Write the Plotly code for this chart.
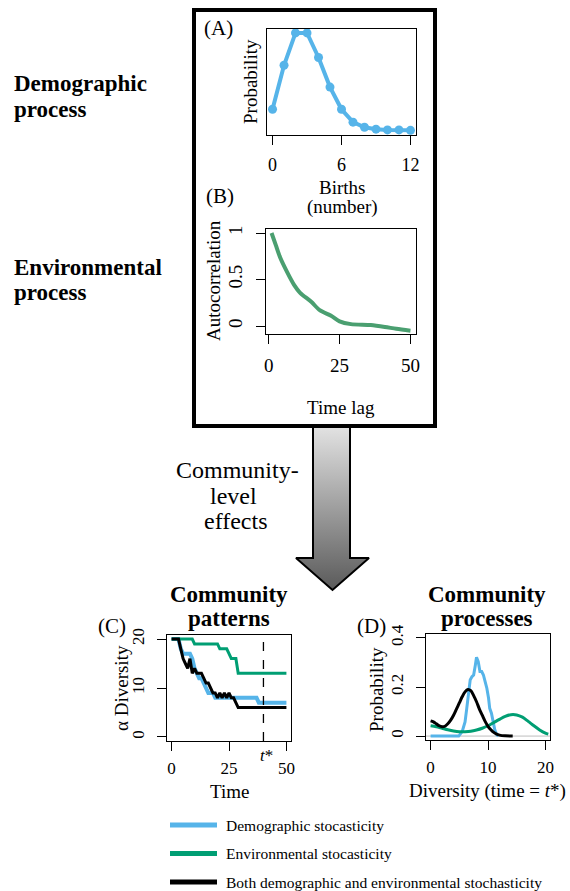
import plotly.graph_objects as go

W, H = 570, 891
FONT = "Liberation Serif"
BLUE = "#56B4E9"
GREEN = "#009E73"
GREEN_B = "#4A9F70"
BLACK = "#000000"

# ---------------- data ----------------
# Panel A: births distribution
births = [0, 1, 2, 3, 4, 5, 6, 7, 8, 9, 10, 11, 12]
birth_prob = [0.054, 0.167, 0.250, 0.250, 0.187, 0.111, 0.054, 0.021, 0.008, 0.003, 0.001, 0.001, 0.0]
a_ticks = [0, 6, 12]

# Panel B: autocorrelation
time_lag = [1, 2.5, 4, 6.5, 9, 11, 15, 18, 22, 25, 29, 36, 41, 45, 50]
autocorr = [1.0, 0.87, 0.74, 0.58, 0.44, 0.36, 0.26, 0.17, 0.11, 0.05, 0.02, 0.01, -0.01, -0.03, -0.05]
b_xticks = [0, 25, 50]
b_yticks = [0, 0.5, 1]
b_ytext = ["0", "0.5", "1"]

# Panel C: alpha diversity through time
time_steps = list(range(0, 51))
div_demographic = [20, 20, 20, 20, 18, 17, 17, 17, 17, 16, 14, 13, 12, 12, 11, 10, 9, 9, 9,
                   8, 8, 8, 8, 8, 8, 8, 8, 8, 8, 8, 8, 8, 8, 8, 8, 8, 8, 8,
                   7, 7, 7, 7, 7, 7, 7, 7, 7, 7, 7, 7, 7]
div_environmental = [20, 20, 20, 20, 20, 20, 20, 20, 20, 20,
                     19, 19, 19, 19, 19, 19, 19, 19, 19, 19, 19,
                     18, 18, 18, 18, 17, 16, 16, 16,
                     13, 13, 13, 13, 13, 13, 13, 13, 13, 13, 13, 13, 13, 13, 13, 13, 13, 13, 13, 13, 13, 13]
div_both = [20, 20, 20, 20, 18, 16, 15, 14, 16, 13, 14, 13, 13, 13, 12, 11, 11, 10, 9, 9,
            8, 9, 8, 9, 8, 9, 8, 8, 7,
            6, 6, 6, 6, 6, 6, 6, 6, 6, 6, 6, 6, 6, 6, 6, 6, 6, 6, 6, 6, 6, 6]
t_star = 40
c_xticks = [0, 25, 50]
c_yticks = [0, 10, 20]

# Panel D: diversity distribution at t*
d_demo_x = [0, 1, 2, 3, 4, 4.9, 5.5, 6.0, 6.3, 6.6, 6.9, 7.2, 7.5, 7.8, 8.0, 8.3, 8.6, 8.9, 9.2,
            9.5, 9.8, 10.1, 10.3, 10.6, 10.9, 11.2, 11.5, 11.8]
d_demo_y = [0, 0, 0, 0, 0, 0, 0.018, 0.058, 0.113, 0.181, 0.229, 0.242, 0.249, 0.29, 0.321, 0.303,
            0.263, 0.263, 0.249, 0.222, 0.195, 0.154, 0.113, 0.093, 0.059, 0.024, 0.007, 0]
d_env_x = [0, 1, 2, 3, 4, 5, 6, 7, 8, 9, 10, 11, 12, 13, 14, 15, 16, 17, 18, 19, 20, 20.5]
d_env_y = [0.042, 0.038, 0.032, 0.026, 0.021, 0.018, 0.018, 0.020, 0.025, 0.032, 0.042, 0.055,
           0.068, 0.080, 0.087, 0.086, 0.077, 0.060, 0.042, 0.025, 0.012, 0.008]
d_both_x = [0, 0.5, 1, 1.5, 2, 2.5, 3, 3.5, 4, 4.5, 5, 5.5, 6, 6.5, 7, 7.5, 8, 8.5, 9, 9.5, 10,
            10.5, 11, 11.5, 12, 13, 14.3]
d_both_y = [0.062, 0.058, 0.050, 0.042, 0.038, 0.040, 0.050, 0.065, 0.085, 0.110, 0.135, 0.160,
            0.180, 0.190, 0.185, 0.165, 0.140, 0.110, 0.085, 0.060, 0.040, 0.026, 0.015, 0.008,
            0.004, 0.001, 0.0]
d_xticks = [0, 10, 20]
d_yticks = [0, 0.2, 0.4]
d_ytext = ["0", "0.2", "0.4"]

legend_labels = ["Demographic stocasticity", "Environmental stocasticity",
                 "Both demographic and environmental stochasticity"]
legend_colors = [BLUE, GREEN, BLACK]


# ---------------- helpers ----------------
def px(x):
    return x / W


def py(y):
    return 1 - y / H


def dom_x(a, b):
    return [px(a), px(b)]


def dom_y(top, bottom):
    return [py(bottom), py(top)]


fig = go.Figure()

# Panel A
fig.add_trace(go.Scatter(x=births, y=birth_prob, mode="lines+markers",
                         line=dict(color=BLUE, width=4), marker=dict(color=BLUE, size=9),
                         xaxis="x", yaxis="y", showlegend=False))
# Panel B
fig.add_trace(go.Scatter(x=time_lag, y=autocorr, mode="lines",
                         line=dict(color=GREEN_B, width=4, shape="spline", smoothing=0.8),
                         xaxis="x2", yaxis="y2", showlegend=False))
# Panel C
fig.add_trace(go.Scatter(x=time_steps, y=div_demographic, mode="lines",
                         line=dict(color=BLUE, width=4), xaxis="x3", yaxis="y3", showlegend=False))
fig.add_trace(go.Scatter(x=time_steps, y=div_environmental, mode="lines",
                         line=dict(color=GREEN, width=3), xaxis="x3", yaxis="y3", showlegend=False))
fig.add_trace(go.Scatter(x=time_steps, y=div_both, mode="lines",
                         line=dict(color=BLACK, width=3), xaxis="x3", yaxis="y3", showlegend=False))
# Panel D
fig.add_trace(go.Scatter(x=d_demo_x, y=d_demo_y, mode="lines",
                         line=dict(color=BLUE, width=3), xaxis="x4", yaxis="y4", showlegend=False))
fig.add_trace(go.Scatter(x=d_env_x, y=d_env_y, mode="lines",
                         line=dict(color=GREEN, width=3, shape="spline", smoothing=0.8),
                         xaxis="x4", yaxis="y4", showlegend=False))
fig.add_trace(go.Scatter(x=d_both_x, y=d_both_y, mode="lines",
                         line=dict(color=BLACK, width=3, shape="spline", smoothing=0.8),
                         xaxis="x4", yaxis="y4", showlegend=False))

# Arrow with vertical gradient, drawn on a full-page overlay axis (pixel units, y up)
arrow_px = [(313, 427), (350, 427), (350, 558), (369, 558), (332.5, 590), (296, 558), (313, 558), (313, 427)]
fig.add_trace(go.Scatter(x=[p[0] for p in arrow_px], y=[H - p[1] for p in arrow_px],
                         mode="lines", fill="toself",
                         fillgradient=dict(type="vertical",
                                           colorscale=[[0, "#5a5a5a"], [1, "#e2e2e2"]]),
                         line=dict(color="black", width=2),
                         xaxis="x5", yaxis="y5", showlegend=False, hoverinfo="skip"))

tick_font_common = dict(family=FONT, color="black")


def axis_common(**kw):
    d = dict(showline=True, mirror=True, linecolor="black", linewidth=1,
             showgrid=False, zeroline=False, ticks="outside", ticklen=9, tickwidth=1,
             tickcolor="black", fixedrange=True, automargin=False)
    d.update(kw)
    return d


fig.update_layout(
    width=W, height=H, margin=dict(l=0, r=0, t=0, b=0, pad=0, autoexpand=False),
    paper_bgcolor="white", plot_bgcolor="rgba(0,0,0,0)",
    showlegend=False,
    font=dict(family=FONT, color="black"),
    xaxis=axis_common(domain=dom_x(267, 416), range=[-0.48, 12.48], tickvals=a_ticks,
                      tickfont=dict(size=18, **tick_font_common), ticklabelstandoff=4, anchor="y"),
    yaxis=axis_common(domain=dom_y(29, 135), range=[-0.012, 0.26], showticklabels=False,
                      ticks="", anchor="x"),
    xaxis2=axis_common(domain=dom_x(266, 416), range=[-0.96, 51.96], tickvals=b_xticks,
                       tickfont=dict(size=19, **tick_font_common), ticklabelstandoff=5, anchor="y2"),
    yaxis2=axis_common(domain=dom_y(229, 334), range=[-0.086, 1.043], tickvals=b_yticks,
                       ticktext=b_ytext, tickangle=-90,
                       tickfont=dict(size=19, **tick_font_common), ticklabelstandoff=6, anchor="x2"),
    xaxis3=axis_common(domain=dom_x(167, 291), range=[-2, 52], tickvals=c_xticks,
                       tickfont=dict(size=17, **tick_font_common), ticklabelstandoff=3, anchor="y3"),
    yaxis3=axis_common(domain=dom_y(635, 741), range=[-0.82, 20.82], tickvals=c_yticks,
                       tickangle=-90, tickfont=dict(size=17, **tick_font_common),
                       ticklabelstandoff=6, anchor="x3"),
    xaxis4=axis_common(domain=dom_x(426, 550), range=[-0.8, 20.8], tickvals=d_xticks,
                       tickfont=dict(size=17, **tick_font_common), ticklabelstandoff=3, anchor="y4"),
    yaxis4=axis_common(domain=dom_y(634, 740), range=[-0.016, 0.416], tickvals=d_yticks,
                       ticktext=d_ytext, tickangle=-90,
                       tickfont=dict(size=17, **tick_font_common), ticklabelstandoff=6, anchor="x4"),
    xaxis5=dict(domain=[0, 1], range=[0, W], visible=False, fixedrange=True, anchor="y5"),
    yaxis5=dict(domain=[0, 1], range=[0, H], visible=False, fixedrange=True, anchor="x5"),
)

# ---------------- shapes ----------------
shapes = []
# big frame around panels A and B
shapes.append(dict(type="rect", xref="paper", yref="paper", x0=px(194), x1=px(435),
                   y0=py(10), y1=py(426), line=dict(color="black", width=4)))
# t* dashed line
shapes.append(dict(type="line", xref="x3", yref="y3 domain", x0=t_star, x1=t_star, y0=0, y1=1,
                   line=dict(color="black", width=1.3, dash="dash")))
# zero line in D
shapes.append(dict(type="line", xref="x4 domain", yref="y4", x0=0, x1=1, y0=0, y1=0,
                   line=dict(color="#BEBEBE", width=1), layer="below"))
# legend lines
for i, c in enumerate(legend_colors):
    yy = 825 + i * 28.5
    shapes.append(dict(type="line", xref="paper", yref="paper", x0=px(170), x1=px(217),
                       y0=py(yy), y1=py(yy), line=dict(color=c, width=5)))
fig.update_layout(shapes=shapes)

# ---------------- annotations ----------------
anns = []


def ann(text, x, y, size, angle=0, xanchor="center", yanchor="middle", bold=False):
    if bold:
        text = "<b>" + text + "</b>"
    anns.append(dict(text=text, x=px(x), y=py(y), xref="paper", yref="paper",
                     showarrow=False, xanchor=xanchor, yanchor=yanchor, textangle=angle,
                     font=dict(family=FONT, size=size, color="black")))


# left labels
ann("Demographic", 12, 83, 23, xanchor="left", bold=True)
ann("process", 12, 109, 23, xanchor="left", bold=True)
ann("Environmental", 12, 267, 23, xanchor="left", bold=True)
ann("process", 12, 293, 23, xanchor="left", bold=True)

# panel A
ann("(A)", 218, 28, 21)
ann("Probability", 250, 82, 19, angle=-90)
ann("Births", 342, 187, 19)
ann("(number)", 342, 207, 19)
# panel B
ann("(B)", 220, 196, 21)
ann("Autocorrelation", 213, 281, 19, angle=-90)
ann("Time lag", 341, 407, 19)

# arrow text
ann("Community-", 237, 470, 24)
ann("level", 233, 496, 24)
ann("effects", 236, 521, 24)

# panel C
ann("Community", 229, 594, 23, bold=True)
ann("patterns", 229, 618, 23, bold=True)
ann("(C)", 112, 626, 21)
ann("α Diversity", 121, 688, 19, angle=-90)
ann("Time", 229, 791, 19)
ann("<i>t</i>*", 266, 755, 17)

# panel D
ann("Community", 487, 594, 23, bold=True)
ann("processes", 487, 618, 23, bold=True)
ann("(D)", 371, 626, 21)
ann("Probability", 376, 690, 19, angle=-90)
ann("Diversity (time = <i>t</i>*)", 487, 791, 19)

# legend text
for i, lab in enumerate(legend_labels):
    ann(lab, 224, 825 + i * 28.5, 15.5, xanchor="left")

fig.update_layout(annotations=anns)

fig.write_html("out.html", config={"displayModeBar": False},
               post_script="document.body.style.margin='0px';document.body.style.overflow='hidden';")
